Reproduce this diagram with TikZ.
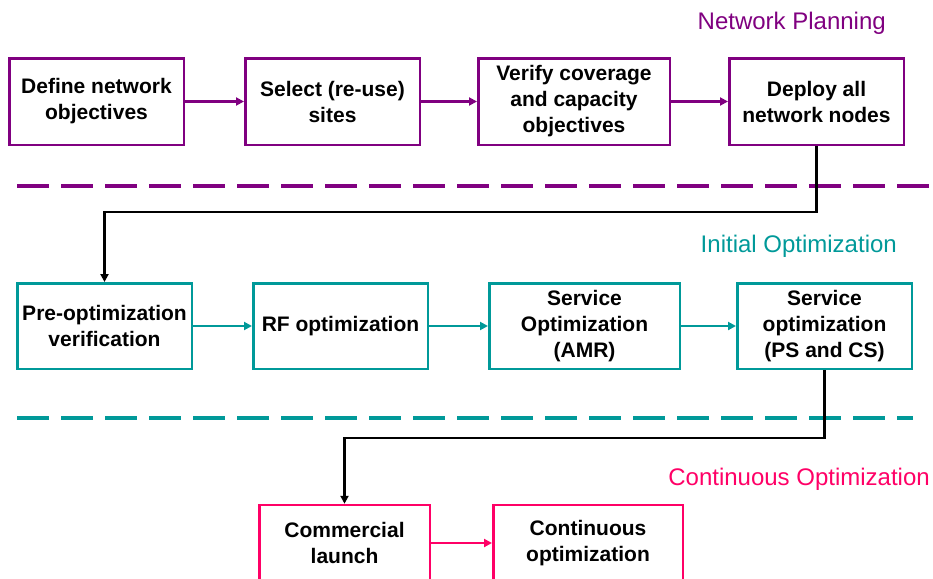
\documentclass[tikz,border=0pt]{standalone}
\usepackage{fontspec}
\setmainfont{Liberation Sans}
\usetikzlibrary{arrows.meta}
\definecolor{plan}{RGB}{128,0,128}
\definecolor{initopt}{RGB}{0,153,153}
\definecolor{contopt}{RGB}{255,0,102}

\begin{document}
\begin{tikzpicture}[x=1pt, y=-1pt, >={Triangle[length=8pt,width=8pt]},
  stagebox/.style={draw, line width=2.5pt, minimum height=86.5pt, align=center, inner sep=0pt,
    text=black, font=\bfseries\fontsize{21}{26}\selectfont},
  phase/.style={anchor=east, inner sep=0pt, font=\fontsize{24}{28}\selectfont},
  flow/.style={line width=2.5pt, ->}]
\useasboundingbox (0,0) rectangle (933,578);

\node [phase, text=plan] (NP) at (886, 23) {Network Planning};
\node [phase, text=initopt] (IO) at (897, 246) {Initial Optimization};
\node [phase, text=contopt] (CO) at (930, 479) {Continuous Optimization};

\node [stagebox, draw=plan, minimum width=174.5pt] (define) at (96.5, 101.5) {Define network\\objectives};
\node [stagebox, draw=plan, minimum width=174.5pt] (select) at (332.5, 101.5) {Select (re-use)\\sites};
\node [stagebox, draw=plan, minimum width=191.5pt] (verify) at (574, 101.5) {Verify coverage\\and capacity\\objectives};
\node [stagebox, draw=plan, minimum width=174.5pt] (deploy) at (816.5, 101.5) {Deploy all\\network nodes};

\draw [flow, plan] (define) -- (select);
\draw [flow, plan] (select) -- (verify);
\draw [flow, plan] (verify) -- (deploy);

\draw [plan, line width=4pt, dash pattern=on 32pt off 12pt] (17, 186) -- (933, 186);

\node [stagebox, draw=initopt, minimum width=174.5pt, minimum height=85.5pt] (preopt) at (104.5, 326) {Pre-optimization\\verification};
\node [stagebox, draw=initopt, minimum width=174.5pt, minimum height=85.5pt] (rfopt) at (340.5, 326) {RF optimization};
\node [stagebox, draw=initopt, minimum width=190.5pt, minimum height=85.5pt] (amr) at (584.5, 326) {Service\\Optimization\\(AMR)};
\node [stagebox, draw=initopt, minimum width=174.5pt, minimum height=85.5pt] (pscs) at (824.5, 326) {Service\\optimization\\(PS and CS)};

\draw [black, line width=2.5pt, ->] (deploy.south) -- ++(0, 66) -| (preopt.north);

\draw [flow, initopt] (preopt) -- (rfopt);
\draw [flow, initopt] (rfopt) -- (amr);
\draw [flow, initopt] (amr) -- (pscs);

\draw [initopt, line width=4pt, dash pattern=on 32pt off 12pt] (17, 418) -- (913, 418);

\node [stagebox, draw=contopt, minimum width=170.5pt, minimum height=76pt] (launch) at (344.5, 543) {Commercial\\launch};
\node [stagebox, draw=contopt, minimum width=189.5pt, minimum height=76pt] (keepopt) at (588, 543) {Continuous\\optimization};

\draw [black, line width=2.5pt, ->] (pscs.south) -- ++(0, 68) -| (launch.north);

\draw [flow, contopt] (launch) -- (keepopt);

\end{tikzpicture}
\end{document}
